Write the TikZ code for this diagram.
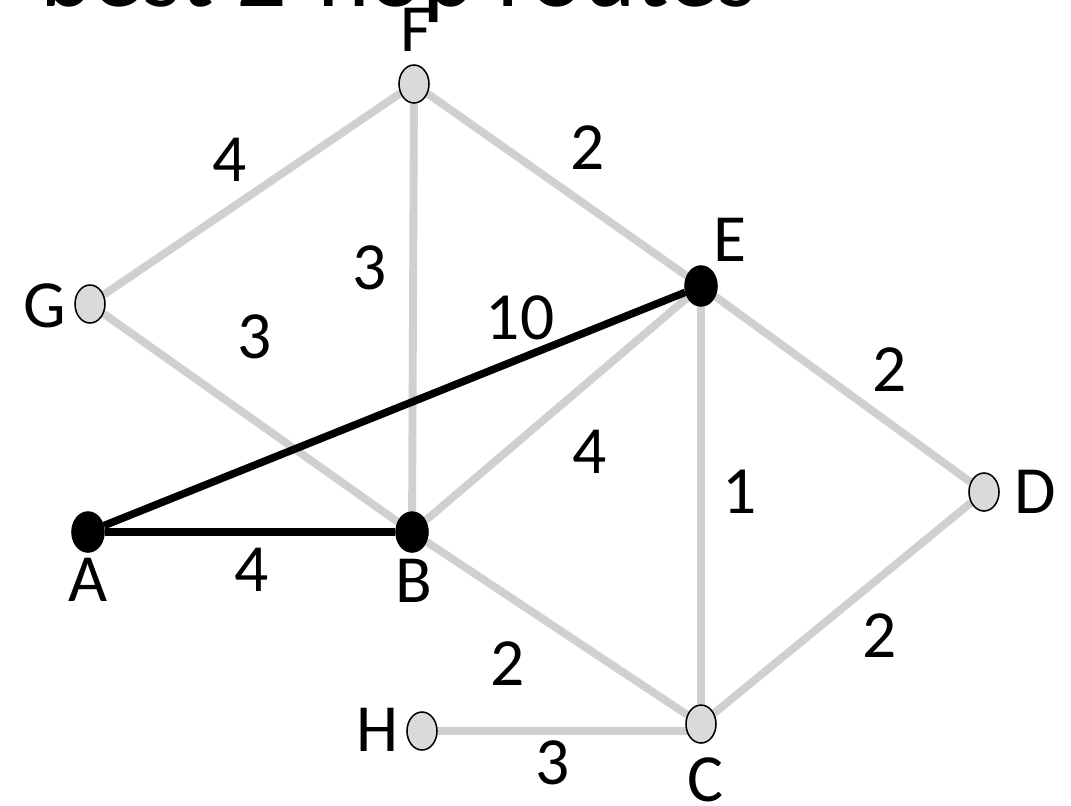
\documentclass[tikz,border=0pt]{standalone}
\usepackage{fontspec}
\setmainfont{Carlito}
\usepackage{tikz}
\usetikzlibrary{positioning,shapes.geometric,backgrounds}
\definecolor{edgegray}{RGB}{208, 208, 208}
\definecolor{nodegray}{RGB}{218, 218, 218}

\begin{document}
\begin{tikzpicture}[x=0.025cm, y=-0.025cm,
    router/.style={ellipse, draw=black, fill=nodegray, line width=1.1pt, minimum width=0.75cm, minimum height=0.95cm, inner sep=0pt},
    hop/.style={ellipse, draw=black, fill=black, line width=1.1pt, minimum width=0.8cm, minimum height=1cm, inner sep=0pt},
    lbl/.style={font=\fontsize{48}{50}\selectfont, inner sep=0pt},
    wgt/.style={font=\fontsize{48}{50}\selectfont, inner sep=0pt},
    link/.style={draw=edgegray, line width=5.6pt},
    route/.style={draw=black, line width=5.4pt}
]
\useasboundingbox (0,0) rectangle (1071,805);
% title, cut off by the page edge
\node[anchor=base west, font=\fontsize{71}{74}\selectfont, inner sep=0pt] (title) at (40,6) {best 2-hop routes};

% routers
\node[router] at (414,84)  (F) {};
\node[router] at (90,304)  (G) {};
\node[router] at (984,492) (D) {};
\node[router] at (701,724) (C) {};
\node[router] at (422,731) (H) {};
\node[hop]    at (701,286) (E) {};
\node[hop]    at (88,532)  (A) {};
\node[hop]    at (412,532) (B) {};

% router names
\node[lbl] at (416,30)  (Fname) {F};
\node[lbl] at (45,306)  (Gname) {G};
\node[lbl] at (1035,492)(Dname) {D};
\node[lbl] at (705,780) (Cname) {C};
\node[lbl] at (378,730) (Hname) {H};
\node[lbl] at (730,240) (Ename) {E};
\node[lbl] at (88,580)  (Aname) {A};
\node[lbl] at (414,581) (Bname) {B};

% links
\begin{scope}[on background layer]
\draw[link] (G) -- (F);
\draw[link] (F) -- (E);
\draw[link] (F) -- (B);
\draw[link] (G) -- (B);
\draw[link] (E) -- (B);
\draw[link] (E) -- (D);
\draw[link] (E) -- (C);
\draw[link] (B) -- (C);
\draw[link] (D) -- (C);
\draw[link] (H) -- (C |- H);
\draw[route] (A) -- (B);
\draw[route] (A) -- (E);
\end{scope}

% link weights
\node[wgt] at (230,160) (wGF) {4};
\node[wgt] at (588,148) (wFE) {2};
\node[wgt] at (370,268) (wFB) {3};
\node[wgt] at (520,318) (wAE) {10};
\node[wgt] at (255,337) (wGB) {3};
\node[wgt] at (890,370) (wED) {2};
\node[wgt] at (590,452) (wEB) {4};
\node[wgt] at (740,492) (wEC) {1};
\node[wgt] at (252,570) (wAB) {4};
\node[wgt] at (508,664) (wBC) {2};
\node[wgt] at (880,636) (wDC) {2};
\node[wgt] at (553,763) (wHC) {3};
\end{tikzpicture}
\end{document}
